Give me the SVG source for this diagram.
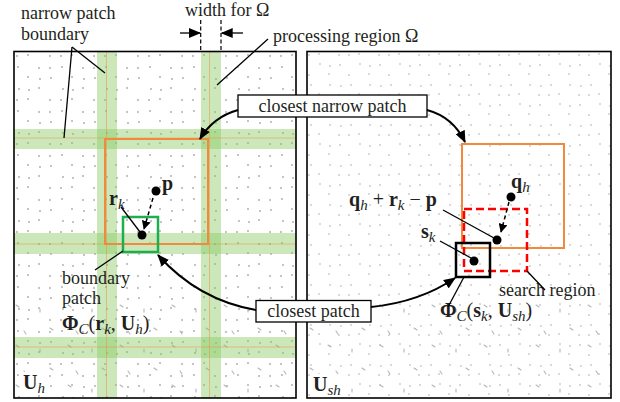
<svg xmlns="http://www.w3.org/2000/svg" width="620" height="402" viewBox="0 0 620 402">
<style>
text{font-family:"Liberation Serif","Times New Roman",serif;font-size:18px;fill:#231f20}
.m{font-size:20px}
.b{font-weight:bold}
.i{font-style:italic;font-size:15px}
.lead{stroke:#000;stroke-width:1.3;fill:none}
.arc{stroke:#000;stroke-width:2;fill:none;marker-end:url(#ah)}
.dash{stroke:#000;stroke-width:1.5;fill:none;stroke-dasharray:4 3;marker-end:url(#ahs)}
.band{fill:#86c95c;opacity:0.42}
.bl{stroke:#f08a3c;stroke-width:0.8;opacity:0.6}
.panel{fill:none;stroke:#000;stroke-width:1.6}
.box{fill:#fff;stroke:#000;stroke-width:1.3}
.dt{fill:#a8a8a8}
.ds{stroke:#b4b4b4;stroke-width:1.1;stroke-linecap:round}
</style>
<defs>
<marker id="ah" viewBox="0 0 12 10" refX="11" refY="5" markerWidth="12" markerHeight="10" markerUnits="userSpaceOnUse" orient="auto"><path d="M0,0 L12,5 L0,10 z" fill="#000"/></marker>
<marker id="ahs" viewBox="0 0 10 10" refX="9" refY="5" markerWidth="9" markerHeight="9" markerUnits="userSpaceOnUse" orient="auto"><path d="M0,0 L10,5 L0,10 z" fill="#000"/></marker>
<marker id="ahw" viewBox="0 0 12 10" refX="11" refY="5" markerWidth="12" markerHeight="10" markerUnits="userSpaceOnUse" orient="auto"><path d="M0,0 L12,5 L0,10 z" fill="#000"/></marker>
<pattern id="pA" width="44" height="44" patternUnits="userSpaceOnUse" x="14" y="52">
<g class="dt">
<circle cx="3" cy="4" r="0.9"/><circle cx="14" cy="3" r="0.9"/><circle cx="36" cy="4" r="0.9"/>
<circle cx="4" cy="15" r="0.9"/><circle cx="25" cy="16" r="0.9"/><circle cx="36" cy="16" r="0.9"/>
<circle cx="14" cy="25" r="0.9"/><circle cx="26" cy="27" r="0.9"/><circle cx="37" cy="26" r="0.9"/>
<circle cx="5" cy="37" r="0.9"/><circle cx="15" cy="38" r="0.9"/><circle cx="25" cy="36" r="0.9"/>
</g>
</pattern>
<pattern id="pB" width="40" height="40" patternUnits="userSpaceOnUse" x="307" y="52">
<g class="dt">
<circle cx="2" cy="3" r="0.8"/><circle cx="12" cy="2" r="0.8"/><circle cx="32" cy="3" r="0.8"/>
<circle cx="13" cy="12" r="0.8"/><circle cx="23" cy="14" r="0.8"/><circle cx="33" cy="13" r="0.8"/>
<circle cx="2" cy="23" r="0.8"/><circle cx="22" cy="22" r="0.8"/>
<circle cx="4" cy="33" r="0.8"/><circle cx="23" cy="33" r="0.8"/><circle cx="34" cy="34" r="0.8"/>
</g>
</pattern>
<pattern id="pC" width="52" height="40" patternUnits="userSpaceOnUse" x="10" y="300">
<g class="ds">
<path d="M6,5 l3,2"/><path d="M30,9 l0,3"/><path d="M40,28 l3,2"/><path d="M14,31 l2,3"/>
</g>
</pattern>
</defs>

<g id="panel-left">
<rect x="14" y="51.5" width="282" height="346.5" fill="#fff"/>
<rect x="14" y="51.5" width="282" height="346.5" fill="url(#pA)"/>
<rect x="14" y="300" width="282" height="98" fill="url(#pC)"/>
<rect x="97" y="51.5" width="20" height="346.5" class="band"/>
<rect x="201" y="51.5" width="20" height="346.5" class="band"/>
<rect x="14" y="129" width="282" height="20" class="band"/>
<rect x="14" y="233" width="282" height="21" class="band"/>
<rect x="14" y="337" width="282" height="21" class="band"/>
<line x1="106.5" y1="52" x2="106.5" y2="398" class="bl"/>
<line x1="209.5" y1="52" x2="209.5" y2="398" class="bl"/>
<line x1="14" y1="138" x2="296" y2="138" class="bl"/>
<line x1="14" y1="244" x2="296" y2="244" class="bl"/>
<line x1="14" y1="347" x2="296" y2="347" class="bl"/>
<rect x="14" y="51.5" width="282" height="346.5" class="panel"/>
<rect x="20" y="372" width="26" height="22" fill="#fff"/>
<text x="23" y="389" class="m"><tspan class="b">U</tspan><tspan class="i" dy="4">h</tspan></text>
</g>

<g id="panel-right">
<rect x="307" y="51.5" width="304" height="346.5" fill="#fff"/>
<rect x="307" y="51.5" width="304" height="346.5" fill="url(#pB)"/>
<rect x="307" y="300" width="304" height="98" fill="url(#pC)"/>
<rect x="307" y="51.5" width="304" height="346.5" class="panel"/>
<rect x="311" y="374" width="32" height="22" fill="#fff"/>
<text x="313" y="391" class="m"><tspan class="b">U</tspan><tspan class="i" dy="4">sh</tspan></text>
</g>

<g id="narrow-patch-left">
<rect x="105" y="139" width="103" height="105" fill="none" stroke="#f08a3c" stroke-width="2"/>
</g>
<g id="boundary-patch">
<rect x="123" y="217" width="35" height="35" fill="none" stroke="#1fae4f" stroke-width="2.5"/>
<circle cx="142" cy="235" r="4.5" fill="#000"/>
</g>
<g id="point-p">
<circle cx="156" cy="191" r="4.5" fill="#000"/>
<text x="162" y="190" class="m b">p</text>
</g>
<g id="label-rk">
<text x="109" y="205" class="m"><tspan class="b">r</tspan><tspan class="i" dy="4">k</tspan></text>
</g>

<g id="narrow-patch-right">
<rect x="462" y="144" width="102" height="104" fill="none" stroke="#f08a3c" stroke-width="2"/>
</g>
<g id="search-region">
<rect x="464" y="209" width="63" height="62" fill="none" stroke="#ff0000" stroke-width="2.5" stroke-dasharray="8 4"/>
</g>
<g id="closest-patch-right">
<rect x="456" y="243" width="34" height="34" fill="none" stroke="#000" stroke-width="2.5"/>
<circle cx="474" cy="261" r="4.5" fill="#000"/>
</g>
<g id="point-qh">
<circle cx="511" cy="197" r="4.5" fill="#000"/>
<text x="511" y="188" class="m"><tspan class="b">q</tspan><tspan class="i" dy="4">h</tspan></text>
</g>
<g id="point-qrp">
<circle cx="497" cy="240" r="4.5" fill="#000"/>
<text x="349" y="206" class="m"><tspan class="b">q</tspan><tspan class="i" dy="4">h</tspan><tspan dy="-4"> + </tspan><tspan class="b">r</tspan><tspan class="i" dy="4">k</tspan><tspan dy="-4"> − </tspan><tspan class="b">p</tspan></text>
</g>
<g id="label-sk">
<text x="421" y="238" class="m"><tspan class="b">s</tspan><tspan class="i" dy="4">k</tspan></text>
</g>

<g id="box-closest-narrow">
<rect x="238" y="95" width="189" height="22" class="box"/>
<text x="332.5" y="112" text-anchor="middle">closest narrow patch</text>
</g>
<g id="box-closest">
<rect x="256" y="300.5" width="115" height="21.5" class="box"/>
<text x="313.5" y="317" text-anchor="middle">closest patch</text>
</g>

<g id="labels">
<text x="21" y="19">narrow patch</text>
<text x="21" y="40">boundary</text>
<text x="185" y="16">width for Ω</text>
<text x="273" y="42">processing region Ω</text>
<text x="62" y="284">boundary</text>
<text x="62" y="304">patch</text>
<text x="62" y="330" class="m"><tspan class="b">Φ</tspan><tspan class="i" dy="4">C</tspan><tspan dy="-4">(</tspan><tspan class="b">r</tspan><tspan class="i" dy="4">k</tspan><tspan dy="-4">, </tspan><tspan class="b">U</tspan><tspan class="i" dy="4">h</tspan><tspan dy="-4">)</tspan></text>
<text x="499" y="296">search region</text>
<text x="440" y="317" class="m"><tspan class="b">Φ</tspan><tspan class="i" dy="4">C</tspan><tspan dy="-4">(</tspan><tspan class="b">s</tspan><tspan class="i" dy="4">k</tspan><tspan dy="-4">, </tspan><tspan class="b">U</tspan><tspan class="i" dy="4">sh</tspan><tspan dy="-4">)</tspan></text>
</g>

<g id="connectors">
<line x1="200.7" y1="20" x2="200.7" y2="52" stroke="#000" stroke-width="1.2" stroke-dasharray="4 2.5"/>
<line x1="221" y1="20" x2="221" y2="52" stroke="#000" stroke-width="1.2" stroke-dasharray="4 2.5"/>
<line x1="180" y1="33" x2="200" y2="33" stroke="#000" stroke-width="1.3" marker-end="url(#ahw)"/>
<line x1="243" y1="33" x2="221.7" y2="33" stroke="#000" stroke-width="1.3" marker-end="url(#ahw)"/>
<path d="M72,47 L105,73" class="lead"/>
<path d="M72,47 L64,138" class="lead"/>
<path d="M268,39 L217,85" class="lead"/>
<path d="M123,251 L95,270" class="lead"/>
<path d="M121,207 L140,232" class="lead"/>
<path d="M443,210 L494,238" class="lead"/>
<path d="M440,241 L471,258" class="lead"/>
<path d="M527,271 L545,290" class="lead"/>
<path d="M464,277 L448,307" class="lead"/>
<path d="M153,198 L144,229" class="dash"/>
<path d="M509,202 L501,232" class="dash"/>
<path d="M238,110 Q213,117 200,139" class="arc"/>
<path d="M427,110 Q453,117 465,142" class="arc"/>
<path d="M256,310 Q198,300 158,255" class="arc"/>
<path d="M371,307 Q420,302 455,278" class="arc"/>
</g>
</svg>
